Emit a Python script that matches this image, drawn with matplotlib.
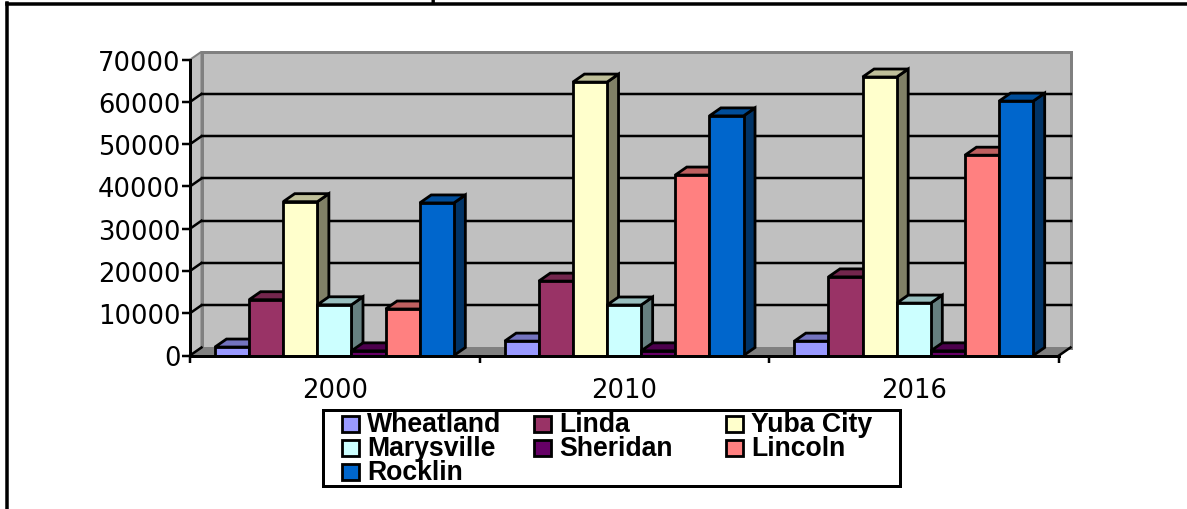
import matplotlib
matplotlib.use("Agg")
import matplotlib.pyplot as plt
from matplotlib.colors import to_rgb
from matplotlib.lines import Line2D
from matplotlib.patches import Polygon, Rectangle

years = ["2000", "2010", "2016"]
cities = ["Wheatland", "Linda", "Yuba City", "Marysville", "Sheridan", "Lincoln", "Rocklin"]
wheatland = [2000, 3400, 3400]
linda = [13200, 17600, 18600]
yuba_city = [36400, 64700, 65900]
marysville = [12000, 11950, 12400]
sheridan = [1100, 1100, 1100]
lincoln = [11000, 42700, 47400]
rocklin = [36100, 56700, 60200]
series = [wheatland, linda, yuba_city, marysville, sheridan, lincoln, rocklin]
colors = ["#9999FF", "#993366", "#FFFFCC", "#CCFFFF", "#660066", "#FF8080", "#0066CC"]
y_ticks = [0, 10000, 20000, 30000, 40000, 50000, 60000, 70000]

W, H = 1187, 510
fig = plt.figure(figsize=(W / 100, H / 100), dpi=100, facecolor="white")
def fx(p): return p / W
def fy(p): return 1 - p / H

ax = fig.add_axes([fx(190), fy(356.5), 869 / W, 295.8 / H])
ax.set_xlim(0, 3)
ax.set_ylim(0, 70000)
ax.patch.set_visible(False)

PT = 0.72
DX = 11.5 * 3 / 869
DY = 8 * 70000 / 295.8
BAR_W = 0.1178
START = 0.0863
EDGE = 2.8 * PT
GRID = 2.5 * PT

def shade(color, k):
    return tuple(c * k for c in to_rgb(color))

# walls and floor
ax.add_patch(Polygon([(DX, DY), (3 + DX, DY), (3 + DX, 70000 + DY), (DX, 70000 + DY)],
                     fc="#C0C0C0", ec="#808080", lw=3 * PT, clip_on=False, zorder=1))
ax.add_patch(Polygon([(0, 0), (DX, DY), (DX, 70000 + DY), (0, 70000)],
                     fc="#C0C0C0", ec="#808080", lw=2 * PT, clip_on=False, zorder=1))
ax.add_patch(Polygon([(0, 0), (3, 0), (3 + DX, DY), (DX, DY)],
                     fc="#808080", ec="#808080", lw=1 * PT, clip_on=False, zorder=1.5))
for v in y_ticks[1:-1]:
    ax.plot([DX, 3 + DX], [v + DY, v + DY], color="black", lw=GRID, clip_on=False, zorder=2)
for v in y_ticks[:-1]:
    ax.plot([0, DX], [v, v + DY], color="black", lw=GRID, clip_on=False, zorder=2)
ax.plot([3, 3 + DX], [0, DY], color="black", lw=GRID, clip_on=False, zorder=2)

# 3-D bars, left to right
z = 3
for g in range(len(years)):
    for s, vals in enumerate(series):
        x0 = g + START + s * BAR_W
        x1 = x0 + BAR_W
        v = vals[g]
        col = colors[s]
        ax.add_patch(Polygon([(x1, 0), (x1 + DX, DY), (x1 + DX, v + DY), (x1, v)],
                             fc=shade(col, 0.5), ec="black", lw=EDGE, clip_on=False,
                             joinstyle="miter", zorder=z))
        ax.add_patch(Polygon([(x0, v), (x1, v), (x1 + DX, v + DY), (x0 + DX, v + DY)],
                             fc=shade(col, 0.75), ec="black", lw=EDGE, clip_on=False,
                             joinstyle="miter", zorder=z))
        ax.bar(x0, v, width=BAR_W, align="edge", color=col, edgecolor="black",
               linewidth=EDGE, clip_on=False, zorder=z + 0.1)
        z += 1

for name in ("top", "right"):
    ax.spines[name].set_visible(False)
for name in ("left", "bottom"):
    ax.spines[name].set_linewidth(3 * PT)
    ax.spines[name].set_zorder(z + 1)

ax.set_yticks(y_ticks)
ax.set_xticks([0, 1, 2, 3])
ax.set_xticklabels([])
ax.tick_params(axis="y", length=8 * PT, width=2.5 * PT, labelsize=18.6, pad=1)
ax.tick_params(axis="x", length=7 * PT, width=2.5 * PT)
for lab in ax.get_yticklabels():
    lab.set_family("DejaVu Sans")
for g, yr in enumerate(years):
    ax.annotate(yr, (g + 0.5, 0), xytext=(0, -(391 - 356.5) * PT), textcoords="offset points",
                ha="center", va="center", fontsize=18.6, family="DejaVu Sans", annotation_clip=False)

# outer frame and clipped title fragment
fig.add_artist(Line2D([fx(7), fx(W)], [fy(5), fy(5)], color="black", lw=3.5 * PT))
fig.add_artist(Line2D([fx(7), fx(7)], [fy(4), fy(H)], color="black", lw=3.5 * PT))
fig.text(fx(436), fy(-7), "p", ha="center", va="center", fontsize=17,
         family="Liberation Serif", fontweight="bold")

# legend
fig.add_artist(Rectangle((fx(323), fy(487)), (900 - 323) / W, (487 - 411) / H, fc="white", ec="black",
                         lw=3 * PT, transform=fig.transFigure))
col_x = [342, 534, 726]
row_y = [425, 449, 473]
for i, (name, col) in enumerate(zip(cities, colors)):
    px = col_x[i % 3]
    py = row_y[i // 3]
    fig.add_artist(Rectangle((fx(px), fy(py + 8)), 17 / W, 16 / H, fc=col, ec="black",
                             lw=2.8 * PT, transform=fig.transFigure))
    fig.text(fx(px + 25), fy(py), name, ha="left", va="center", fontsize=19.2,
             family="Liberation Sans", fontweight="bold")

fig.savefig("out.png", dpi=100)
